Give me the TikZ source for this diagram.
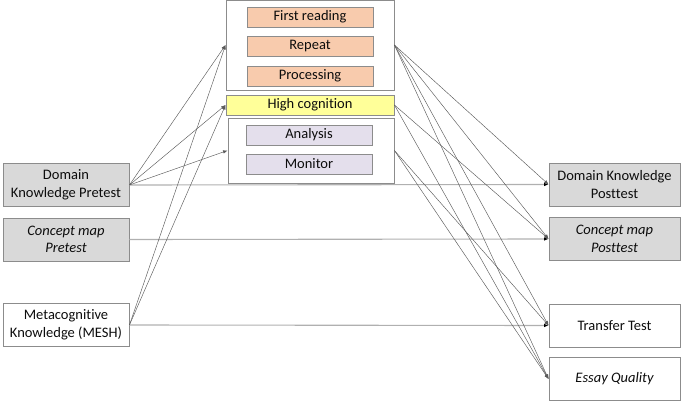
\documentclass[tikz,border=0pt]{standalone}
\usepackage{fontspec}
\setmainfont{Carlito}[Ligatures={NoCommon}]
\usetikzlibrary{arrows.meta}
\definecolor{bordergray}{HTML}{8C8C8C}
\definecolor{fillgray}{HTML}{D9D9D9}
\definecolor{fillorange}{HTML}{F8CBAD}
\definecolor{fillyellow}{HTML}{FFFF99}
\definecolor{filllav}{HTML}{E4DFEC}
\definecolor{txt}{HTML}{0D0D0D}
\definecolor{linegray}{HTML}{5A5A5A}
\definecolor{hlinegray}{HTML}{B0B0B0}
\begin{document}
\begin{tikzpicture}[x=1pt,y=-1pt,
  basebox/.style={draw=bordergray,line width=0.9pt,inner sep=0pt,text=txt,align=center,
    font=\fontsize{14.5}{17.5}\selectfont},
  sidebox/.style={basebox,minimum width=126pt,minimum height=43pt},
  innerbox/.style={basebox,minimum width=126pt,minimum height=20pt},
  grpbox/.style={draw=bordergray,line width=0.9pt,fill=white,inner sep=0pt},
  diag/.style={draw=linegray,line width=0.45pt,-{Latex[length=4.5pt,width=3.5pt]}},
  hline/.style={draw=hlinegray,line width=1.1pt,
    arrows={-{Latex[length=4.5pt,width=3.5pt,color=black]}}},
]
\useasboundingbox (0,0) rectangle (685,401);
% group boxes
\node[grpbox,minimum width=168pt,minimum height=90pt] (topbox) at (310,45) {};
\node[grpbox,minimum width=166pt,minimum height=65pt] (botbox) at (311,150.5) {};
\node[basebox,fill=fillyellow,minimum width=168pt,minimum height=20pt] (high) at (310,105) {High cognition};
% inner boxes
\node[innerbox,fill=fillorange] (first) at (310,17) {First reading};
\node[innerbox,fill=fillorange] (repeat) at (310,46.5) {Repeat};
\node[innerbox,fill=fillorange] (proc) at (310,76) {Processing};
\node[innerbox,fill=filllav] (analysis) at (309,135) {Analysis};
\node[innerbox,fill=filllav] (monitor) at (309,164) {Monitor};
% left boxes
\node[sidebox,fill=fillgray] (dkpre) at (66,185) {Domain\\Knowledge Pretest};
\node[sidebox,fill=fillgray,font=\fontsize{14.5}{17.5}\selectfont\itshape] (cmpre) at (66,239.5) {Concept map\\Pretest};
\node[sidebox,fill=white] (mesh) at (66,325) {Metacognitive\\Knowledge (MESH)};
% right boxes
\node[sidebox,fill=fillgray,minimum width=131pt] (dkpost) at (614.5,184.5) {Domain Knowledge\\Posttest};
\node[sidebox,fill=fillgray,minimum width=131pt,font=\fontsize{14.5}{17.5}\selectfont\itshape] (cmpost) at (614.5,239) {Concept map\\Posttest};
\node[sidebox,fill=white,minimum width=131pt] (transfer) at (614.5,325.5) {Transfer Test};
\node[sidebox,fill=white,minimum width=131pt,font=\fontsize{14.5}{17.5}\selectfont\itshape] (essay) at (614.5,379) {Essay Quality};
% horizontal connectors
\draw[hline] (dkpre.east) -- (dkpost.west);
\draw[hline] (cmpre.east) -- (cmpost.west);
\draw[hline] (mesh.east) -- (transfer.west);
% left diagonals
\draw[diag] (dkpre.east) -- (topbox.west);
\draw[diag] (dkpre.east) -- (high.west);
\draw[diag] (dkpre.east) -- (botbox.west);
\draw[diag] (mesh.east) -- (topbox.west);
\draw[diag] (mesh.east) -- (high.west);
% right diagonals
\draw[diag] (topbox.east) -- (dkpost.west);
\draw[diag] (topbox.east) -- (cmpost.west);
\draw[diag] (topbox.east) -- (transfer.west);
\draw[diag] (topbox.east) -- (essay.west);
\draw[diag] (high.east) -- (cmpost.west);
\draw[diag] (high.east) -- (essay.west);
\draw[diag] (botbox.east) -- (transfer.west);
\draw[diag] (botbox.east) -- (essay.west);
\end{tikzpicture}
\end{document}
